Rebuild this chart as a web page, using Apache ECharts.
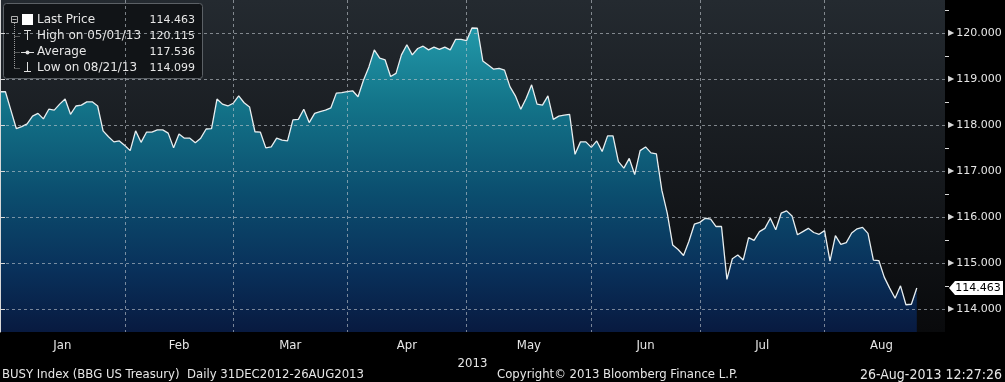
<!DOCTYPE html>
<html><head><meta charset="utf-8">
<script src="https://cdn.jsdelivr.net/npm/echarts@6/dist/echarts.min.js"></script>
<style>html,body{margin:0;padding:0;background:#000;}#c{width:1005px;height:382px;}</style>
</head><body><div id="c"></div>
<script>
// Daily (weekday) prices, 31 Dec 2012 onward; x = weekday index
const prices = [
 118.73,118.73,118.33,117.93,117.97,118.03,118.20,118.26,118.14,118.35,
 118.33,118.46,118.57,118.24,118.42,118.44,118.51,118.51,118.42,117.88,
 117.75,117.64,117.66,117.56,117.45,117.88,117.63,117.85,117.85,117.90,
 117.90,117.83,117.51,117.81,117.72,117.72,117.62,117.72,117.92,117.93,
 118.57,118.46,118.42,118.48,118.64,118.49,118.40,117.86,117.85,117.51,
 117.53,117.72,117.68,117.66,118.12,118.13,118.35,118.06,118.26,118.30,
 118.33,118.38,118.70,118.71,118.73,118.75,118.62,118.98,119.27,119.64,
 119.46,119.42,119.06,119.13,119.53,119.75,119.53,119.67,119.72,119.64,
 119.70,119.65,119.70,119.64,119.87,119.87,119.84,120.115,120.11,119.40,
 119.31,119.22,119.24,119.20,118.84,118.64,118.35,118.59,118.88,118.46,
 118.44,118.64,118.13,118.20,118.22,118.24,117.37,117.64,117.64,117.52,
 117.66,117.43,117.77,117.77,117.21,117.07,117.28,116.93,117.45,117.53,
 117.40,117.38,116.59,116.09,115.40,115.30,115.17,115.48,115.85,115.89,
 115.98,115.96,115.80,115.80,114.65,115.10,115.18,115.07,115.56,115.50,
 115.69,115.76,115.98,115.73,116.09,116.14,116.03,115.62,115.69,115.76,
 115.67,115.63,115.71,115.05,115.60,115.41,115.45,115.66,115.75,115.78,
 115.65,115.07,115.06,114.70,114.46,114.24,114.51,114.099,114.11,114.463
];
const monthNames = ['Jan','Feb','Mar','Apr','May','Jun','Jul','Aug'];
const monthLabelPos = [11.5,33,53.5,75,97.5,119,140.5,162.5];
const monthLinePos = [23,43,64,86,109,129,152];
const yLabelValues = [114,115,116,117,118,119,120];
const yMinorValues = [113.5,114.5,115.5,116.5,117.5,118.5,119.5,120.5];
const yearLabel = '2013';
const legendLabels = ['Last Price','High on 05/01/13','Average','Low on 08/21/13'];
const legendValues = ['114.463','120.115','117.536','114.099'];
const footerTexts = ['BUSY Index (BBG US Treasury)  Daily 31DEC2012-26AUG2013','Copyright\u00a9 2013 Bloomberg Finance L.P.','26-Aug-2013 12:27:26'];

const X_MIN = 0, X_MAX = 174.2, Y_MIN = 113.507, Y_MAX = 120.724;
const condFont = '"DejaVu Sans Condensed","Liberation Sans Narrow","DejaVu Sans",sans-serif';
const gridColor = 'rgba(195,202,208,0.6)';

const chart = echarts.init(document.getElementById('c'), null, {renderer:'canvas'});

const rowY = [20, 36, 52, 68];
const lg = [];
lg.push({type:'rect', shape:{x:3.5,y:3.5,width:199,height:75,r:3}, style:{fill:'#111417',stroke:'#5c6166',lineWidth:1}});
lg.push({type:'rect', shape:{x:11.5,y:16.5,width:6,height:6}, style:{fill:'none',stroke:'#b0b0b0',lineWidth:1}});
lg.push({type:'line', shape:{x1:12.5,y1:19.5,x2:16.5,y2:19.5}, style:{stroke:'#b0b0b0',lineWidth:1}});
lg.push({type:'line', shape:{x1:14.5,y1:23,x2:14.5,y2:68.5}, style:{stroke:'#9a9a9a',lineWidth:1,lineDash:[1,1]}});
[36,52,68].forEach(y=>lg.push({type:'line', shape:{x1:14.5,y1:y+0.5,x2:20,y2:y+0.5}, style:{stroke:'#9a9a9a',lineWidth:1,lineDash:[1,1]}}));
lg.push({type:'rect', shape:{x:22,y:14,width:11,height:11}, style:{fill:'#ffffff'}});
lg.push({type:'line', shape:{x1:24,y1:30.5,x2:31,y2:30.5}, style:{stroke:'#e0e0e0',lineWidth:1}});
lg.push({type:'line', shape:{x1:27.5,y1:30.5,x2:27.5,y2:40}, style:{stroke:'#e0e0e0',lineWidth:1}});
lg.push({type:'line', shape:{x1:21,y1:52.5,x2:34,y2:52.5}, style:{stroke:'#e0e0e0',lineWidth:1}});
lg.push({type:'circle', shape:{cx:27.5,cy:52.5,r:2}, style:{fill:'#e0e0e0'}});
lg.push({type:'line', shape:{x1:27.5,y1:62,x2:27.5,y2:71.5}, style:{stroke:'#e0e0e0',lineWidth:1}});
lg.push({type:'line', shape:{x1:24,y1:71.5,x2:31,y2:71.5}, style:{stroke:'#e0e0e0',lineWidth:1}});
legendLabels.forEach((t,i)=>lg.push({type:'text', x:37, y:rowY[i], style:{text:t, fill:'#e6e6e6', font:'12px "DejaVu Sans"', textAlign:'left', textVerticalAlign:'middle'}}));
legendValues.forEach((t,i)=>lg.push({type:'text', x:195, y:rowY[i], style:{text:t, fill:'#e6e6e6', font:'11px "DejaVu Sans"', textAlign:'right', textVerticalAlign:'middle'}}));

const footStyle = {color:'#e6e6e6', fontSize:13, fontWeight:'normal', fontFamily:condFont};

chart.setOption({
  animation:false,
  backgroundColor:'#000000',
  title:[
    {text:footerTexts[0], left:2, top:368, padding:0, textStyle:footStyle},
    {text:footerTexts[1], left:497, top:368, padding:0, textStyle:footStyle},
    {text:footerTexts[2], right:3, top:368, padding:0, textStyle:Object.assign({}, footStyle, {fontSize:14})}
  ],
  grid:{left:0, top:0, right:60, bottom:50, show:true, borderWidth:0, z:0,
    backgroundColor:{type:'linear',x:0,y:0,x2:0,y2:1,colorStops:[{offset:0,color:'#242a30'},{offset:1,color:'#090a0c'}]}},
  xAxis:{
    type:'value', min:X_MIN, max:X_MAX, z:3,
    name:yearLabel, nameLocation:'middle', nameGap:21,
    nameTextStyle:{color:'#e6e6e6', fontSize:13, fontFamily:condFont},
    axisLine:{show:false},
    axisTick:{show:false, customValues:monthLinePos},
    axisLabel:{customValues:monthLabelPos, margin:7, color:'#e6e6e6', fontSize:13, fontFamily:condFont,
      formatter:v=>monthNames[monthLabelPos.indexOf(v)] || ''},
    splitLine:{show:true, lineStyle:{color:gridColor, width:1, type:[3,3]}}
  },
  yAxis:[{
    type:'value', position:'right', min:Y_MIN, max:Y_MAX, z:3,
    axisLine:{show:true, lineStyle:{color:'#d8d8d8', width:1}},
    axisTick:{show:true, length:5, customValues:yLabelValues, lineStyle:{color:'#d8d8d8'}},
    axisLabel:{customValues:yLabelValues, margin:3,
      formatter:v=>'{t|\u25B6}{v|'+v.toFixed(3)+'}',
      rich:{t:{fontSize:8, color:'#d8d8d8', fontFamily:'DejaVu Sans', padding:[0,2,0,0]}, v:{fontSize:11, color:'#e6e6e6', fontFamily:'DejaVu Sans'}}},
    splitLine:{show:true, lineStyle:{color:gridColor, width:1, type:[3,3]}}
  },{
    type:'value', position:'right', min:Y_MIN, max:Y_MAX, z:3,
    axisLine:{show:false},
    axisTick:{show:true, length:4, customValues:yMinorValues, lineStyle:{color:'#d8d8d8'}},
    axisLabel:{show:false},
    splitLine:{show:false}
  }],
  series:[{
    type:'line', z:2, symbol:'none', silent:true,
    data:prices.map((v,i)=>[i,v]),
    lineStyle:{color:'#e8eef0', width:1.3},
    areaStyle:{origin:'start', opacity:1, color:{type:'linear',x:0,y:0,x2:0,y2:1,colorStops:[
      {offset:0,color:'#2298a9'},{offset:0.25,color:'#137489'},{offset:0.55,color:'#0b4d6e'},{offset:0.8,color:'#09305a'},{offset:1,color:'#081a40'}]}},
    markPoint:{
      silent:true,
      symbol:'path://M0,7 L6,0 L54,0 L54,14 L6,14 Z', symbolSize:[54,14], symbolKeepAspect:false,
      symbolOffset:[31,0],
      itemStyle:{color:'#ffffff'},
      label:{show:true, position:'inside', color:'#000000', fontSize:11, fontFamily:'DejaVu Sans', formatter:()=>legendValues[0], offset:[2,0]},
      data:[{coord:[X_MAX, prices[prices.length-1]]}]
    }
  }],
  graphic:[{type:'group', z:100, children:lg}]
});
</script></body></html>
